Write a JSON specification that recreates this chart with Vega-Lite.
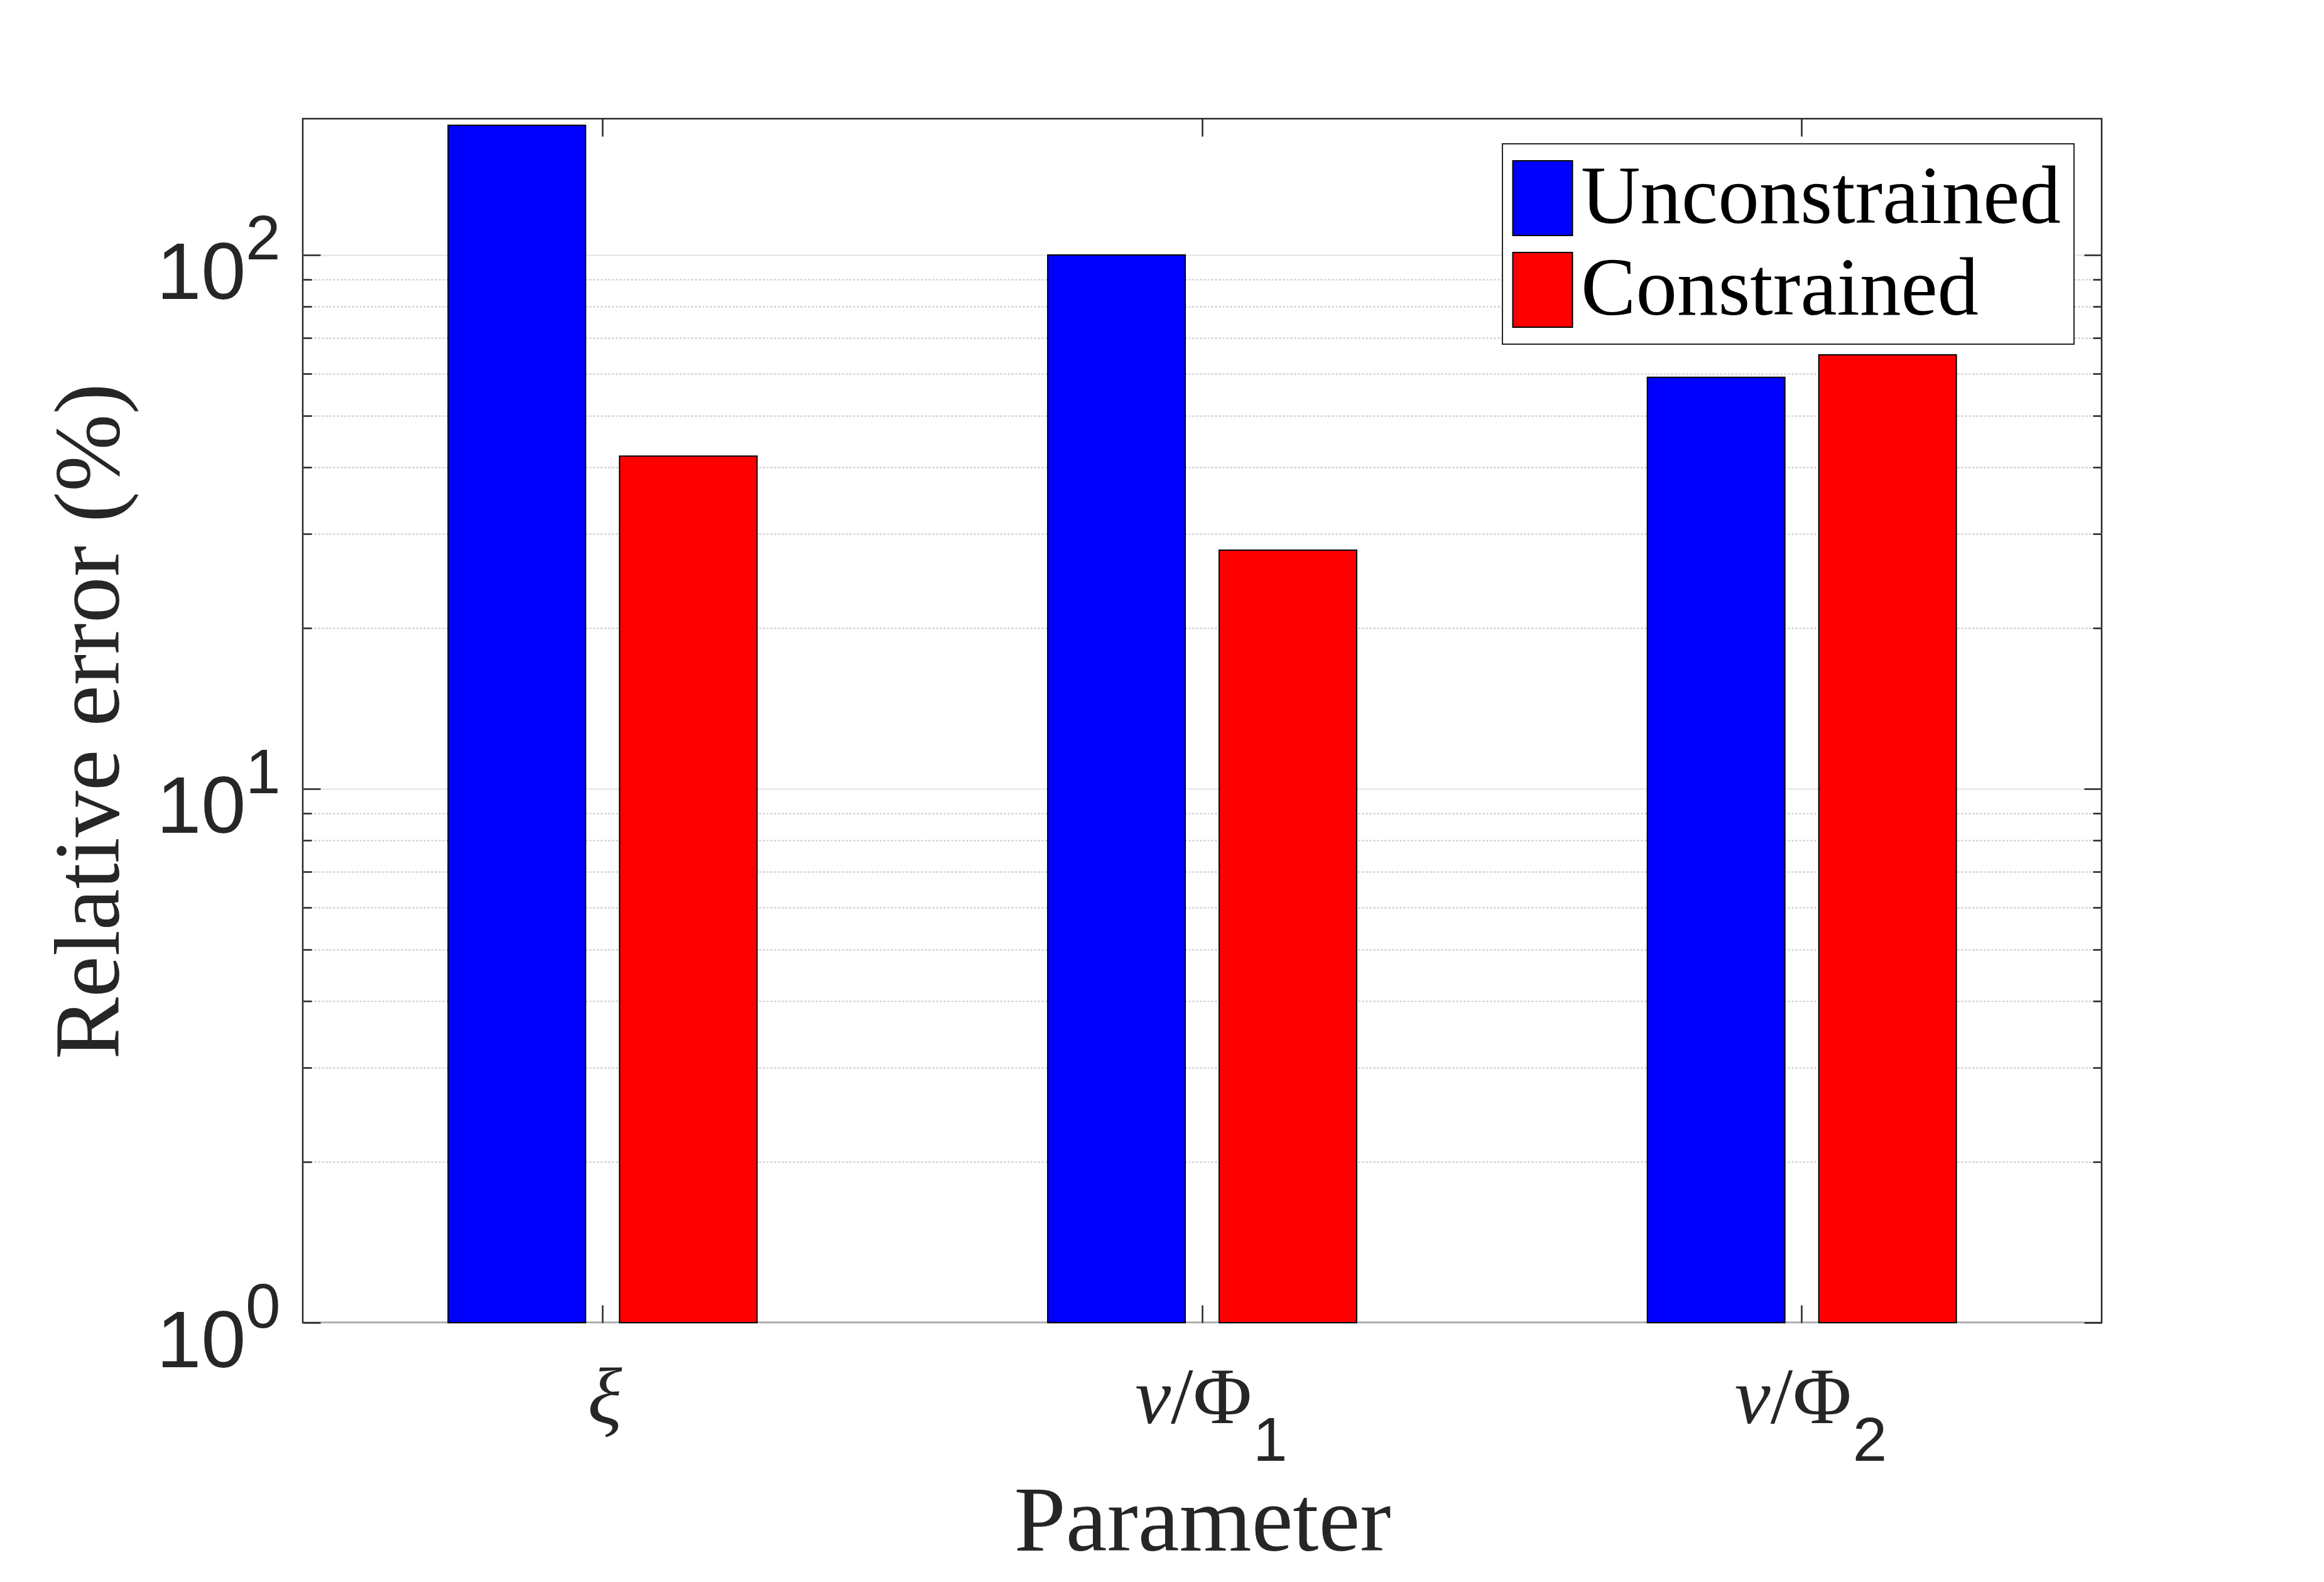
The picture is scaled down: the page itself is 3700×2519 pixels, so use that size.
{
  "$schema": "https://vega.github.io/schema/vega-lite/v6.json",
  "width": 2864,
  "height": 1917,
  "autosize": {"type": "none"},
  "padding": {"left": 482, "top": 189, "right": 354, "bottom": 413},
  "background": "white",
  "config": {
    "view": {"stroke": "#262626", "strokeWidth": 2.5},
    "axis": {"domain": false, "grid": false, "ticks": false, "labels": false, "labelAngle": 0, "tickColor": "#262626", "tickWidth": 2.5, "labelColor": "#262626", "titleColor": "#262626"},
    "axisX": {"labelAngle": 0},
    "legend": {"strokeWidth": 2}
  },
  "data": {
    "values": [
      {"param": "ξ", "method": "Unconstrained", "error": 175},
      {"param": "ξ", "method": "Constrained", "error": 42},
      {"param": "ν/Φ1", "method": "Unconstrained", "error": 100},
      {"param": "ν/Φ1", "method": "Constrained", "error": 28},
      {"param": "ν/Φ2", "method": "Unconstrained", "error": 59},
      {"param": "ν/Φ2", "method": "Constrained", "error": 65}
    ]
  },
  "layer": [
    {
      "mark": {"type": "bar", "stroke": "black", "strokeWidth": 2},
      "encoding": {
        "x": {
          "field": "param", "type": "nominal",
          "scale": {"type": "band", "domain": ["ξ", "ν/Φ1", "ν/Φ2"], "paddingInner": 0, "paddingOuter": 0},
          "axis": {
            "orient": "bottom", "title": null, "labels": true, "labelAngle": 0,
            "labelExpr": "datum.value == 'ξ' ? 'ξ' : 'ν'",
            "labelFont": "Liberation Serif", "labelFontStyle": "italic", "labelFontSize": 128,
            "labelAlign": "right", "labelBaseline": "alphabetic", "labelPadding": 159,
            "labelOffset": {"condition": {"test": "datum.value == 'ξ'", "value": 31}, "value": -50},
            "labelColor": "#262626"
          }
        },
        "xOffset": {
          "field": "method", "type": "nominal",
          "scale": {"domain": ["Unconstrained", "Constrained"], "paddingInner": 0.198, "paddingOuter": 0.8475}
        },
        "y": {
          "field": "error", "type": "quantitative",
          "scale": {"type": "log", "domain": [1, 180], "nice": false},
          "axis": {
            "orient": "left", "values": [1, 10, 100], "labels": true,
            "labelExpr": "'10'",
            "labelFont": "Liberation Sans", "labelFontSize": 128,
            "labelAlign": "right", "labelBaseline": "alphabetic", "labelPadding": 91, "labelOffset": 70,
            "title": "Relative error (%)", "titleFont": "Liberation Serif", "titleFontSize": 148, "titleFontWeight": "normal",
            "titleAngle": -90, "titleAlign": "center", "titleBaseline": "alphabetic",
            "titleX": -294, "titleY": 959
          }
        },
        "y2": {"datum": 1},
        "color": {
          "field": "method", "type": "nominal",
          "scale": {"domain": ["Unconstrained", "Constrained"], "range": ["#0000ff", "#ff0000"]},
          "legend": {
            "orient": "none", "legendX": 1910, "legendY": 40, "title": null,
            "fillColor": "white", "strokeColor": "#262626", "padding": 21,
            "labelFont": "Liberation Serif", "labelFontSize": 131, "labelColor": "black", "labelLimit": 3000,
            "labelOffset": -27,
            "symbolType": "M-1.176,-1L0.42,-1L0.42,1L-1.176,1Z", "symbolSize": 14161,
            "symbolStrokeColor": "black", "symbolStrokeWidth": 2, "symbolOpacity": 1,
            "rowPadding": 14
          }
        }
      }
    },
    {
      "mark": {"type": "bar", "opacity": 0},
      "encoding": {
        "x": {
          "field": "param", "type": "nominal",
          "axis": {
            "orient": "bottom", "title": null, "labels": true, "labelAngle": 0,
            "labelExpr": "datum.value == 'ξ' ? '' : '/Φ'",
            "labelFont": "Liberation Serif", "labelFontSize": 128,
            "labelAlign": "left", "labelBaseline": "alphabetic", "labelPadding": 159, "labelOffset": -50
          }
        },
        "y": {
          "field": "error", "type": "quantitative",
          "axis": {
            "orient": "left", "values": [1, 10, 100], "labels": true, "title": null,
            "labelExpr": "datum.value == 1 ? '0' : datum.value == 10 ? '1' : '2'",
            "labelFont": "Liberation Sans", "labelFontSize": 100,
            "labelAlign": "right", "labelBaseline": "alphabetic", "labelPadding": 36, "labelOffset": 7
          }
        }
      }
    },
    {
      "mark": {"type": "bar", "opacity": 0},
      "encoding": {
        "x": {
          "field": "param", "type": "nominal",
          "axis": {
            "orient": "bottom", "title": null, "labels": true, "labelAngle": 0,
            "labelExpr": "substring(datum.value, 3)",
            "labelFont": "Liberation Sans", "labelFontSize": 98,
            "labelAlign": "left", "labelBaseline": "alphabetic", "labelPadding": 219, "labelOffset": 81
          }
        },
        "y": {
          "field": "error", "type": "quantitative",
          "axis": {
            "orient": "left", "values": [1, 10, 100], "title": null,
            "ticks": true, "tickSize": -28,
            "grid": true, "gridColor": "#e3e3e3", "gridWidth": 2
          }
        }
      }
    },
    {
      "mark": {"type": "bar", "opacity": 0},
      "encoding": {
        "x": {
          "field": "param", "type": "nominal",
          "axis": {
            "orient": "bottom", "ticks": true, "tickSize": -28,
            "title": "Parameter", "titleFont": "Liberation Serif", "titleFontSize": 148, "titleFontWeight": "normal",
            "titleAlign": "center", "titleBaseline": "alphabetic", "titleX": 1432, "titleY": 362
          }
        },
        "y": {
          "field": "error", "type": "quantitative",
          "axis": {
            "orient": "left", "values": [2, 3, 4, 5, 6, 7, 8, 9, 20, 30, 40, 50, 60, 70, 80, 90], "title": null,
            "ticks": true, "tickSize": -14,
            "grid": true, "gridColor": "#c4c4c4", "gridWidth": 2, "gridDash": [3, 3]
          }
        }
      }
    },
    {
      "mark": {"type": "bar", "opacity": 0},
      "encoding": {
        "x": {
          "field": "param", "type": "nominal",
          "axis": {"orient": "top", "ticks": true, "tickSize": -28, "title": null}
        },
        "y": {
          "field": "error", "type": "quantitative",
          "axis": {"orient": "right", "values": [1, 10, 100], "ticks": true, "tickSize": -28, "title": null}
        }
      }
    },
    {
      "mark": {"type": "bar", "opacity": 0},
      "encoding": {
        "x": {"field": "param", "type": "nominal", "axis": null},
        "y": {
          "field": "error", "type": "quantitative",
          "axis": {"orient": "right", "values": [2, 3, 4, 5, 6, 7, 8, 9, 20, 30, 40, 50, 60, 70, 80, 90], "ticks": true, "tickSize": -14, "title": null}
        }
      }
    }
  ],
  "resolve": {"axis": {"x": "independent", "y": "independent"}}
}
